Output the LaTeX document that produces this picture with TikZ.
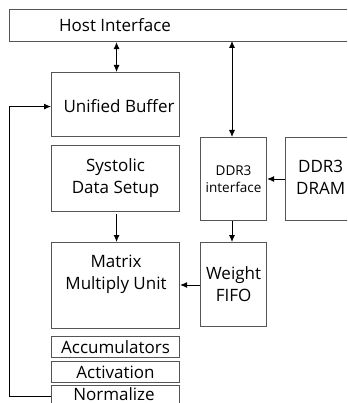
\documentclass[tikz,border=0pt]{standalone}
\usepackage{fontspec}
\setmainfont{Open Sans}
\usetikzlibrary{arrows.meta,calc}
\definecolor{boxgray}{HTML}{555555}
\tikzset{
  blk/.style={draw=boxgray, line width=1.1pt, inner sep=0pt, anchor=north west},
  lbl/.style={font=\fontsize{17}{22}\selectfont, align=center, inner sep=0pt},
  small/.style={font=\fontsize{13.5}{17}\selectfont, align=center, inner sep=0pt},
  conn/.style={black, line width=0.9pt},
  tip/.tip={Latex[length=7pt,width=6pt]},
}
\begin{document}
\begin{tikzpicture}[x=1pt,y=1pt]
\useasboundingbox (0,0) rectangle (347,-403);
\clip (0,0) rectangle (347,-403);
% block outlines (positions in picture coordinates)
\node[blk, minimum width=360pt, minimum height=32pt] (host) at (9,-9) {};
\node[blk, minimum width=128pt, minimum height=64pt] (ub) at (51,-72) {};
\node[blk, minimum width=128pt, minimum height=66pt] (sds) at (51,-145) {};
\node[blk, minimum width=128pt, minimum height=86pt] (mmu) at (51,-242) {};
\node[blk, minimum width=128pt, minimum height=21pt] (acc) at (51,-336) {};
\node[blk, minimum width=128pt, minimum height=21pt] (act) at (51,-361) {};
\node[blk, minimum width=128pt, minimum height=25pt] (norm) at (51,-385) {};
\node[blk, minimum width=66pt, minimum height=83pt] (ddrif) at (200,-137) {};
\node[blk, minimum width=80pt, minimum height=83pt] (dram) at (285,-137) {};
\node[blk, minimum width=66pt, minimum height=84pt] (wf) at (200,-242) {};
% labels
\node[lbl] (thost) at (115,-25) {Host Interface};
\node[lbl] (tub) at (119,-106) {Unified Buffer};
\node[lbl] (tsds) at (sds.center) {Systolic\\Data Setup};
\node[lbl, anchor=north] (tmmu) at (116,-255) {Matrix\\Multiply Unit};
\node[lbl] (tacc) at (acc.center) {Accumulators};
\node[lbl] (tact) at (act.center) {Activation};
\node[lbl] (tnorm) at (114,-394) {Normalize};
\node[small] (tddrif) at (ddrif.center) {DDR3\\interface};
\node[lbl, anchor=west] (tdram) at (296,-177) {DDR3\\DRAM};
\node[lbl] (twf) at (wf.center) {Weight\\FIFO};
% connectors
\draw[conn, tip-tip] (host.south -| ub.north) ++(1,0) coordinate (h1) -- (h1 |- ub.north);
\draw[conn, tip-tip] (232,-41) coordinate (h2) -- (h2 |- ddrif.north);
\draw[conn, -tip] (sds.south) ++(1,-2) coordinate (s1) -- (s1 |- mmu.north);
\draw[conn, -tip] (dram.west |- 0,-179) coordinate (d1) -- (d1 -| ddrif.east);
\draw[conn, -tip] (h2 |- ddrif.south) coordinate (d2) -- (d2 |- wf.north);
\draw[conn, -tip] (wf.west |- 0,-285) coordinate (w1) -- (w1 -| mmu.east);
\coordinate (fb) at (9,-396);
\draw[conn, -tip] (norm.west |- fb) -- (fb) |- ($(ub.west)+(0,-2)$);
\end{tikzpicture}
\end{document}
